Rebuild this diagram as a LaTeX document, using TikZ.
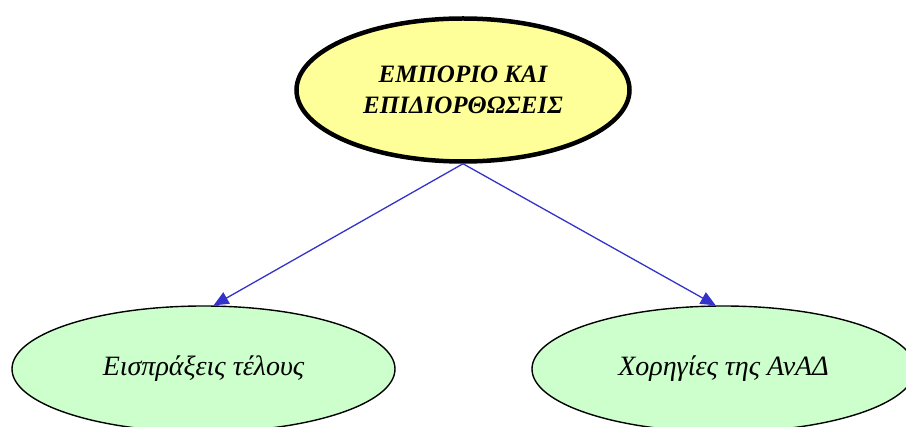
\documentclass[tikz,border=0pt]{standalone}
\usepackage{fontspec}
\setmainfont{Liberation Serif}
\usetikzlibrary{shapes.geometric,arrows.meta}
\definecolor{topfill}{HTML}{FFFF99}
\definecolor{leaffill}{HTML}{CCFFCC}
\definecolor{edgeblue}{HTML}{3333CC}
\begin{document}
\begin{tikzpicture}[x=1pt,y=-1pt,
  topbox/.style={ellipse,draw=black,line width=4.5pt,fill=topfill,minimum width=333pt,minimum height=143pt,inner sep=0pt,align=center,font=\fontsize{25}{31}\selectfont\bfseries\itshape},
  leafbox/.style={ellipse,draw=black,line width=1.4pt,fill=leaffill,minimum width=383pt,minimum height=126pt,inner sep=0pt,font=\fontsize{28}{30}\selectfont\itshape},
  link/.style={draw=edgeblue,line width=1.3pt,-{Triangle[length=15pt,width=13pt]}}]
\useasboundingbox (0,0) rectangle (906,427);
\node[topbox] (top) at (463,90) {ΕΜΠΟΡΙΟ ΚΑΙ\\ΕΠΙΔΙΟΡΘΩΣΕΙΣ};
\node[leafbox] (left) at (203.5,369) {Εισπράξεις τέλους};
\node[leafbox] (right) at (723.5,369) {Χορηγίες της ΑνΑΔ};
\draw[link] (top.south) -- (left.81);
\draw[link] (top.south) -- (right.97);
\end{tikzpicture}
\end{document}
